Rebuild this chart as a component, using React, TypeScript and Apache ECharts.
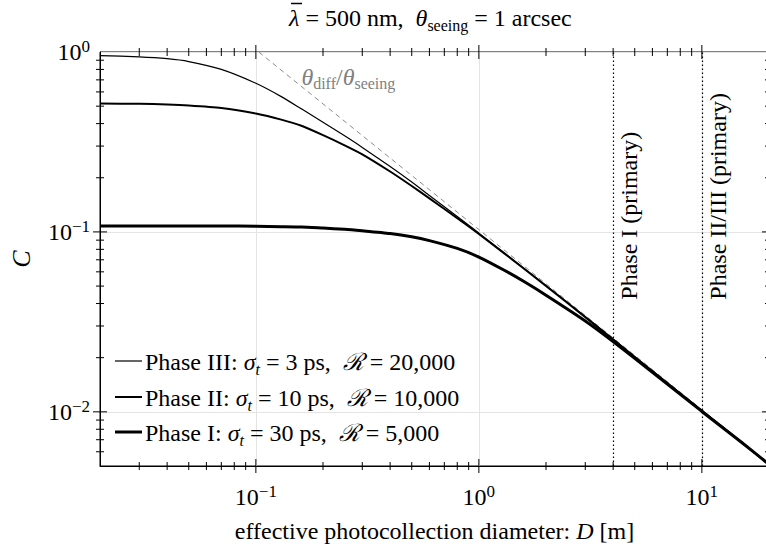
import React, { useEffect, useRef } from 'react';
import * as echarts from 'echarts';

// ---- data ----
const D = [0.02, 0.03, 0.04, 0.05, 0.07, 0.1, 0.13, 0.16, 0.2, 0.25, 0.3, 0.4, 0.5, 0.6, 0.8, 1, 1.3, 1.6, 2, 3, 4, 6, 10, 15, 20];
const phase3 = [0.955, 0.94, 0.918, 0.885, 0.8, 0.67, 0.565, 0.483, 0.407, 0.342, 0.295, 0.231, 0.1895, 0.1595, 0.1217, 0.0985, 0.0764, 0.0625, 0.0504, 0.0338, 0.0254, 0.0169, 0.0102, 0.0068, 0.0051];
const phase2 = [0.517, 0.515, 0.511, 0.505, 0.489, 0.455, 0.421, 0.389, 0.345, 0.303, 0.27, 0.2167, 0.18, 0.1537, 0.1193, 0.0973, 0.076, 0.0622, 0.0501, 0.0336, 0.0252, 0.0168, 0.0101, 0.0068, 0.0051];
const phase1 = [0.108, 0.108, 0.108, 0.108, 0.108, 0.1075, 0.107, 0.1065, 0.105, 0.1035, 0.1015, 0.098, 0.094, 0.0895, 0.081, 0.0725, 0.0612, 0.0528, 0.0445, 0.032, 0.0246, 0.0166, 0.01005, 0.0068, 0.0051];
const diffD = [0.103, 20];
const diffC = [1.0, 0.00515];
const phaseLines = [4, 10];
const phaseLineLabels = ['Phase I (primary)', 'Phase II/III (primary)'];
const legendNames = ['Phase III', 'Phase II', 'Phase I'];
const sigmaPs = [3, 10, 30];
const resolving = ['20,000', '10,000', '5,000'];
const lineWidths = [1.2, 2, 3];
const xMajor = [0.1, 1, 10];
const xMinor = [0.03, 0.04, 0.05, 0.06, 0.07, 0.08, 0.09, 0.2, 0.3, 0.4, 0.5, 0.6, 0.7, 0.8, 0.9, 2, 3, 4, 5, 6, 7, 8, 9];
const yMajor = [0.01, 0.1];
const yMinor = [0.006, 0.007, 0.008, 0.009, 0.02, 0.03, 0.04, 0.05, 0.06, 0.07, 0.08, 0.09, 0.2, 0.3, 0.4, 0.5, 0.6, 0.7, 0.8, 0.9];
const X_MIN = 0.02, X_MAX = 20, Y_MIN = 0.005, Y_MAX = 1;

const FF = "'Liberation Serif', 'DejaVu Serif', serif";

const powLabel = (v: number) => {
  const e = Math.log10(v);
  const r = Math.round(e);
  if (Math.abs(e - r) > 1e-6) return '';
  return `{b|10}{s|${r < 0 ? '\u2212' : ''}${Math.abs(r)}}`;
};

const powRich = {
  b: { fontSize: 24, lineHeight: 28, fontFamily: FF, color: '#000' },
  s: { fontSize: 17, lineHeight: 16, verticalAlign: 'top', fontFamily: FF, color: '#000' },
};

// rich styles for ECharts components (axis name)
const textRich = (color: string, size = 24) => ({
  n: { fontSize: size, lineHeight: 30, fontFamily: FF, color },
  i: { fontSize: size, lineHeight: 30, fontFamily: FF, fontStyle: 'italic', color },
  sub: { fontSize: Math.round(size * 0.68), lineHeight: 18, verticalAlign: 'bottom', fontFamily: FF, color },
  isub: { fontSize: Math.round(size * 0.68), lineHeight: 18, verticalAlign: 'bottom', fontFamily: FF, fontStyle: 'italic', color },
});

// rich styles for zrender graphic texts (font strings set explicitly)
const gRich = (color: string, size = 24) => {
  const s = Math.round(size * 0.68);
  return {
    n: { font: `${size}px ${FF}`, fontSize: size, fontFamily: FF, lineHeight: 30, fill: color },
    i: { font: `italic ${size}px ${FF}`, fontSize: size, fontFamily: FF, fontStyle: 'italic', lineHeight: 30, fill: color },
    sub: { font: `${s}px ${FF}`, fontSize: s, fontFamily: FF, lineHeight: 18, verticalAlign: 'bottom', fill: color },
    isub: { font: `italic ${s}px ${FF}`, fontSize: s, fontFamily: FF, fontStyle: 'italic', lineHeight: 18, verticalAlign: 'bottom', fill: color },
  };
};

export default function App() {
  const ref = useRef<HTMLDivElement>(null);
  useEffect(() => {
    if (!ref.current) return;
    const chart = echarts.init(ref.current, undefined, { renderer: 'svg' });
    const xTickData = [...xMajor.map((v) => [v, Y_MIN, 7]), ...xMinor.map((v) => [v, Y_MIN, 4])];
    const yTickData = [...yMajor.map((v) => [X_MIN, v, 7]), ...yMinor.map((v) => [X_MIN, v, 4])];
    const vals = [phase3, phase2, phase1];
    const option: any = {
      animation: false,
      backgroundColor: '#fff',
      grid: { left: 100, top: 52, width: 669, height: 414, show: true, borderColor: '#000', borderWidth: 1, containLabel: false, outerBoundsMode: 'none' },
      xAxis: {
        type: 'log', logBase: 10, min: X_MIN, max: X_MAX,
        axisLine: { show: true, lineStyle: { color: '#000', width: 1 } },
        axisTick: { show: false },
        splitLine: { show: true, lineStyle: { color: '#e4e4e4', width: 1 } },
        axisLabel: { formatter: powLabel, rich: powRich, margin: 17, color: '#000' },
        name: 'effective photocollection diameter: {i|D} [m]',
        nameLocation: 'middle', nameGap: 50,
        nameTextStyle: { rich: textRich('#000'), fontSize: 24, fontFamily: FF, color: '#000' },
      },
      yAxis: {
        type: 'log', logBase: 10, min: Y_MIN, max: Y_MAX,
        axisLine: { show: true, lineStyle: { color: '#000', width: 1 } },
        axisTick: { show: false },
        splitLine: { show: true, lineStyle: { color: '#e4e4e4', width: 1 } },
        axisLabel: { formatter: powLabel, rich: powRich, margin: 10, color: '#000' },
        name: 'C', nameLocation: 'middle', nameGap: 66, nameRotate: 90,
        nameTextStyle: { fontSize: 26, fontFamily: FF, fontStyle: 'italic', color: '#000' },
      },
      series: [
        ...legendNames.map((n, i) => ({
          name: n, type: 'line', symbol: 'none', smooth: 0.2,
          lineStyle: { color: '#000', width: lineWidths[i] },
          data: D.map((d, k) => [d, vals[i][k]]), z: 3 + i,
        })),
        {
          name: 'diff', type: 'line', symbol: 'none',
          lineStyle: { color: '#8a8a8a', width: 1, type: [5, 4] },
          data: diffD.map((d, k) => [d, diffC[k]]), z: 2,
          markLine: {
            silent: true, symbol: ['none', 'none'], label: { show: false },
            lineStyle: { type: [1.5, 2.5], color: '#000', width: 1.2 },
            data: phaseLines.map((v) => ({ xAxis: v })),
          },
        },
        {
          type: 'custom', silent: true, clip: false, z: 10,
          data: xTickData,
          renderItem: (params: any, api: any) => {
            const v = api.value(0); const len = api.value(2);
            const b = api.coord([v, Y_MIN]); const t = api.coord([v, Y_MAX]);
            const st = { stroke: '#000', lineWidth: 1 };
            return { type: 'group', children: [
              { type: 'line', shape: { x1: b[0], y1: b[1] - len, x2: b[0], y2: b[1] + len }, style: st },
              { type: 'line', shape: { x1: t[0], y1: t[1] - len, x2: t[0], y2: t[1] + len }, style: st },
            ] };
          },
        },
        {
          type: 'custom', silent: true, clip: false, z: 10,
          data: yTickData,
          renderItem: (params: any, api: any) => {
            const v = api.value(1); const len = api.value(2);
            const l = api.coord([X_MIN, v]); const r = api.coord([X_MAX, v]);
            const st = { stroke: '#000', lineWidth: 1 };
            return { type: 'group', children: [
              { type: 'line', shape: { x1: l[0] - len, y1: l[1], x2: l[0] + len, y2: l[1] }, style: st },
              { type: 'line', shape: { x1: r[0] - len, y1: r[1], x2: r[0] + len, y2: r[1] }, style: st },
            ] };
          },
        },
      ],
    };
    chart.setOption(option);

    const toPx = (p: number[]) => chart.convertToPixel({ xAxisIndex: 0, yAxisIndex: 0 }, p) as number[];
    const graphics: any[] = [];
    phaseLines.forEach((v, i) => {
      const p = toPx([v, 0.042]);
      graphics.push({
        type: 'text', x: p[0] + 16, y: p[1], rotation: Math.PI / 2, silent: true,
        style: { text: phaseLineLabels[i], font: `24px ${FF}`, fontSize: 24, fontFamily: FF, fill: '#000', align: 'left', verticalAlign: 'middle', textAlign: 'left', textVerticalAlign: 'middle' },
      });
    });
    const tp = toPx([0.16, 0.73]);
    graphics.push({
      type: 'text', x: tp[0], y: tp[1], silent: true,
      style: { text: '{i|\u03b8}{sub|diff}{n|/}{i|\u03b8}{sub|seeing}', rich: gRich('#808080'), font: `24px ${FF}`, fontSize: 24, fontFamily: FF, fill: '#808080', align: 'left', verticalAlign: 'middle', textAlign: 'left', textVerticalAlign: 'middle' },
    });
    // title
    const tx = 289;
    graphics.push({
      type: 'text', x: tx, y: 18, silent: true,
      style: { text: '{i|\u03bb}{n| = 500 nm,  }{i|\u03b8}{sub|seeing}{n| = 1 arcsec}', rich: gRich('#000', 24), font: `24px ${FF}`, fontSize: 24, fontFamily: FF, fill: '#000', align: 'left', verticalAlign: 'middle', textAlign: 'left', textVerticalAlign: 'middle' },
    });
    graphics.push({ type: 'line', silent: true, shape: { x1: tx + 2, y1: 3.5, x2: tx + 13, y2: 3.5 }, style: { stroke: '#000', lineWidth: 1.5 } });
    // legend (drawn as graphic rows)
    const rowY = [361, 397, 432];
    legendNames.forEach((n, i) => {
      graphics.push({ type: 'line', silent: true, shape: { x1: 115, y1: rowY[i], x2: 142, y2: rowY[i] }, style: { stroke: '#000', lineWidth: lineWidths[i] } });
      graphics.push({
        type: 'text', x: 145, y: rowY[i] + 1, silent: true,
        style: { text: `{n|${n}: }{i|\u03c3}{isub|t}{n| = ${sigmaPs[i]} ps,  }{i|\u211b}{n| = ${resolving[i]}}`, rich: gRich('#000'), font: `24px ${FF}`, fontSize: 24, fontFamily: FF, fill: '#000', align: 'left', verticalAlign: 'middle', textAlign: 'left', textVerticalAlign: 'middle' },
      });
    });
    chart.setOption({ graphic: graphics });
    return () => chart.dispose();
  }, []);
  return <div ref={ref} style={{ position: 'fixed', left: 0, top: 0, width: 766, height: 552, background: '#fff' }} />;
}
